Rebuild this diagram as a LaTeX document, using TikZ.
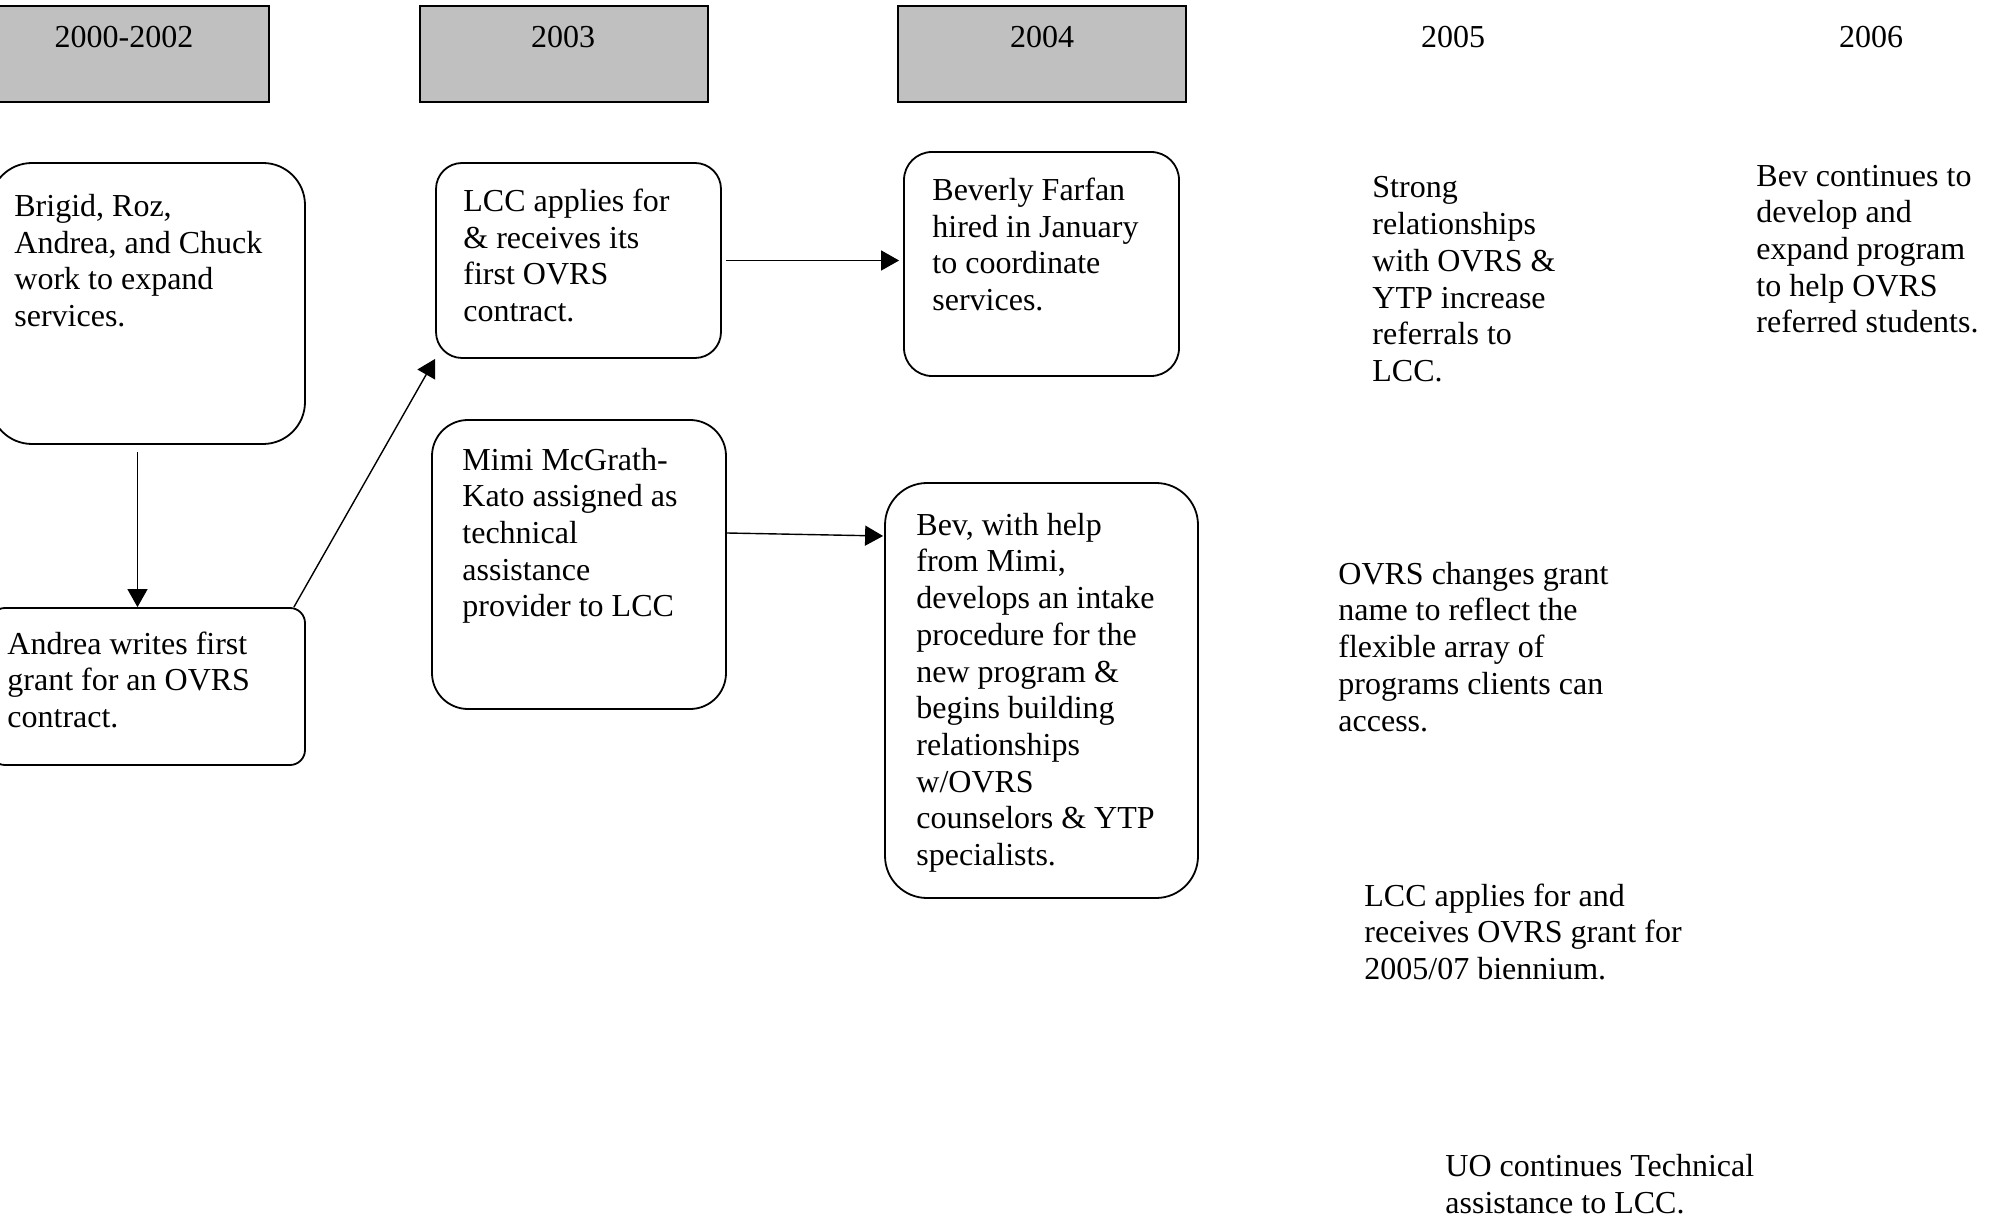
\documentclass[tikz,border=0pt]{standalone}
\usepackage{fontspec}
\setmainfont{Liberation Serif}
\usetikzlibrary{fit,arrows.meta}
\definecolor{yeargray}{HTML}{C0C0C0}
\begin{document}
\begin{tikzpicture}[x=0.5pt,y=-0.5pt,
  every node/.style={font=\fontsize{16}{18.35}\selectfont},
  yearbox/.style={draw, line width=0.9pt, fill=yeargray, inner sep=0pt},
  evbox/.style={draw, line width=0.9pt, inner sep=0pt},
  yeartxt/.style={anchor=base, inner sep=0pt},
  txt/.style={anchor=base west, align=left, inner sep=0pt},
  arr/.style={-{Triangle[length=9pt,width=10pt]}, line width=0.7pt}]
\useasboundingbox (0,0) rectangle (2000,1218);
% year headers
\node[yearbox, fit={(-10,6) (269,102)}] (y1) {};
\node[yearbox, fit={(420,6) (708,102)}] (y2) {};
\node[yearbox, fit={(898,6) (1186,102)}] (y3) {};
\node[yeartxt] (t1) at (124,48) {2000-2002};
\node[yeartxt] (t2) at (563,48) {2003};
\node[yeartxt] (t3) at (1042,48) {2004};
\node[yeartxt] (t4) at (1453,48) {2005};
\node[yeartxt] (t5) at (1871,48) {2006};
% event boxes
\node[evbox, rounded corners=21pt, fit={(-10,163) (305,444)}] (b1) {};
\node[evbox, rounded corners=7.5pt, fit={(-10,608) (305,765)}] (b2) {};
\node[evbox, rounded corners=13pt, fit={(436,163) (721,358)}] (b3) {};
\node[evbox, rounded corners=14pt, fit={(904,152) (1179,376)}] (b4) {};
\node[evbox, rounded corners=18pt, fit={(432,420) (726,709)}] (b5) {};
\node[evbox, rounded corners=21pt, fit={(885,483) (1198,898)}] (b6) {};
% box texts (anchored at the baseline of the last line)
\node[txt] (b1t) at (14,326.5) {Brigid, Roz,\\Andrea, and Chuck\\work to expand\\services.};
\node[txt] (b2t) at (7,727.5) {Andrea writes first\\grant for an OVRS\\contract.};
\node[txt] (b3t) at (463,321.5) {LCC applies for\\\& receives its\\first OVRS\\contract.};
\node[txt] (b4t) at (932,310.5) {Beverly Farfan\\hired in January\\to coordinate\\services.};
\node[txt] (b5t) at (462,617) {Mimi McGrath-\\Kato assigned as\\technical\\assistance\\provider to LCC};
\node[txt] (b6t) at (916,865.5) {Bev, with help\\from Mimi,\\develops an intake\\procedure for the\\new program \&\\begins building\\relationships\\w/OVRS\\counselors \& YTP\\specialists.};
% free texts
\node[txt] (s1) at (1372,381.5) {Strong\\relationships\\with OVRS \&\\YTP increase\\referrals to\\LCC.};
\node[txt] (s2) at (1756,333) {Bev continues to\\develop and\\expand program\\to help OVRS\\referred students.};
\node[txt] (s3) at (1338,731) {OVRS changes grant\\name to reflect the\\flexible array of\\programs clients can\\access.};
\node[txt] (s4) at (1364,979.5) {LCC applies for and\\receives OVRS grant for\\2005/07 biennium.};
\node[txt] (s5) at (1445,1213.5) {UO continues Technical\\assistance to LCC.};
% connectors
\draw[arr] ([xshift=-5pt,yshift=-3.5pt]b1.south) -- ([xshift=-5pt]b2.north);
\draw[arr] ([xshift=-6pt]b2.north east) -- (b3.south west);
\draw[arr] ([xshift=2pt]b3.east) -- ([xshift=-2pt]b4.west |- b3.east);
\draw[arr] ([yshift=15.75pt]b5.east) -- ([yshift=77.25pt,xshift=-0.5pt]b6.west);
\end{tikzpicture}
\end{document}
